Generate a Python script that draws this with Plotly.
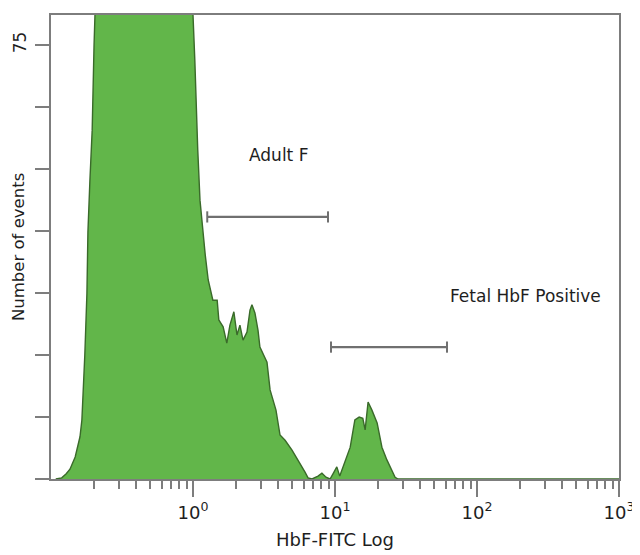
import math
import plotly.graph_objects as go

# HbF-FITC intensity (bin positions) and number of events
fitc = [0.108, 0.119, 0.128, 0.136, 0.148, 0.160, 0.165, 0.171, 0.173, 0.179, 0.182,
        0.188, 0.195, 0.201, 0.204, 0.23, 0.306, 0.424, 0.586, 0.81, 1.0, 1.03, 1.05,
        1.08, 1.12, 1.17, 1.22, 1.28, 1.38, 1.48, 1.52, 1.63, 1.73, 1.82, 1.94, 2.04,
        2.14, 2.25, 2.40, 2.52, 2.60, 2.73, 2.87, 2.96, 3.16, 3.32, 3.49, 3.66, 3.84,
        4.10, 4.45, 4.98, 5.67, 6.15, 6.46, 6.89, 7.59, 8.09, 8.64, 9.23, 9.68, 10.3,
        10.8, 11.8, 12.8, 13.8, 14.8, 15.7, 16.3, 17.1, 18.2, 19.8, 21.4, 23.2, 24.4,
        26.5, 27.8, 100.0, 1000.0]
events = [0, 0.2, 0.9, 1.7, 3.8, 7.3, 10.2, 17.1, 21.4, 32.0, 42.7,
          51.7, 60.3, 75.0, 80.2, 100, 115, 122, 110, 92, 80.2, 72.4, 65.5,
          56.9, 48.2, 43.0, 38.7, 34.4, 30.9, 30.9, 27.5, 26.3, 23.5, 26.6, 28.9, 24.9,
          26.6, 24.0, 25.4, 29.2, 30.1, 28.7, 25.7, 22.8, 21.4, 20.2, 15.4, 13.7, 11.9,
          7.6, 6.7, 5.0, 2.8, 1.2, 0.2, 0, 0.5, 1.0, 0.3, 0, 0.9, 2.1,
          0.5, 3.3, 5.5, 10.2, 10.7, 10.5, 8.5, 13.3, 11.9, 9.7, 5.5, 3.3, 2.1,
          0.3, 0, 0, 0]

# gates (FITC range) and the height at which each marker is drawn
gate_names = ["Adult F", "Fetal HbF Positive"]
gate_lo = [1.26, 9.37]
gate_hi = [8.93, 61.5]
gate_y = [45.3, 22.8]
label_x = [3.97, 218]
label_y = [56.0, 31.6]

# axis ticks
x_major = [1, 10, 100, 1000]
x_major_text = ["10<sup>0</sup>", "10<sup>1</sup>", "10<sup>2</sup>", "10<sup>3</sup>"]
x_minor = [d * 10 ** k for k in range(-1, 3) for d in range(2, 10)]
y_top_label = 75
y_ticks = [i * y_top_label / 7 for i in range(8)]
y_text = [""] * 7 + [str(y_top_label)]

FONT = "'DejaVu Sans', sans-serif"
TXT = "#1e1e1e"
AX = "#7d7d7d"

fig = go.Figure()
fig.add_trace(go.Scatter(
    x=fitc, y=events, mode="lines", fill="tozeroy",
    line=dict(color="#3a6a2a", width=1.4),
    fillcolor="#62b64a", hoverinfo="x+y", showlegend=False))

for lo, hi, yy in zip(gate_lo, gate_hi, gate_y):
    fig.add_trace(go.Scatter(
        x=[lo, hi], y=[yy, yy], mode="lines+markers",
        line=dict(color="#707070", width=2.2),
        marker=dict(symbol="line-ns", size=8, line=dict(color="#707070", width=2)),
        hoverinfo="skip", showlegend=False))

for name, lx, ly in zip(gate_names, label_x, label_y):
    fig.add_annotation(x=math.log10(lx), y=ly, xref="x", yref="y", text=name,
                       showarrow=False,
                       font=dict(family=FONT, size=17, color=TXT))

fig.add_annotation(x=0, y=0.5, xref="paper", yref="paper", text="Number of events",
                   textangle=-90, showarrow=False, xanchor="center", yanchor="middle",
                   xshift=-33, font=dict(family=FONT, size=16.5, color=TXT))

fig.update_xaxes(
    type="log", range=[-1, 3], automargin=False,
    tickvals=x_major, ticktext=x_major_text,
    ticks="outside", ticklen=16, tickwidth=2, tickcolor=AX,
    minor=dict(tickvals=x_minor, ticks="outside", ticklen=8, tickwidth=2, tickcolor=AX),
    showline=True, linecolor=AX, linewidth=2, mirror=True,
    showgrid=False, zeroline=False,
    tickfont=dict(family=FONT, size=18, color=TXT),
    title=dict(text="HbF-FITC Log", font=dict(family=FONT, size=18, color=TXT),
               standoff=12))

fig.update_yaxes(
    range=[0, 80.2], automargin=False,
    tickvals=y_ticks, ticktext=y_text, tickangle=-90,
    ticks="outside", ticklen=14, tickwidth=2, tickcolor=AX, ticklabelstandoff=2,
    showline=True, linecolor=AX, linewidth=2, mirror=True,
    showgrid=False, zeroline=False,
    tickfont=dict(family=FONT, size=17, color=TXT))

# the page body adds an 8px offset, so the figure is sized 8px smaller
fig.update_layout(
    width=632, height=547,
    margin=dict(l=43, r=21, t=7, b=76),
    paper_bgcolor="white", plot_bgcolor="white")

fig.write_html("out.html")
